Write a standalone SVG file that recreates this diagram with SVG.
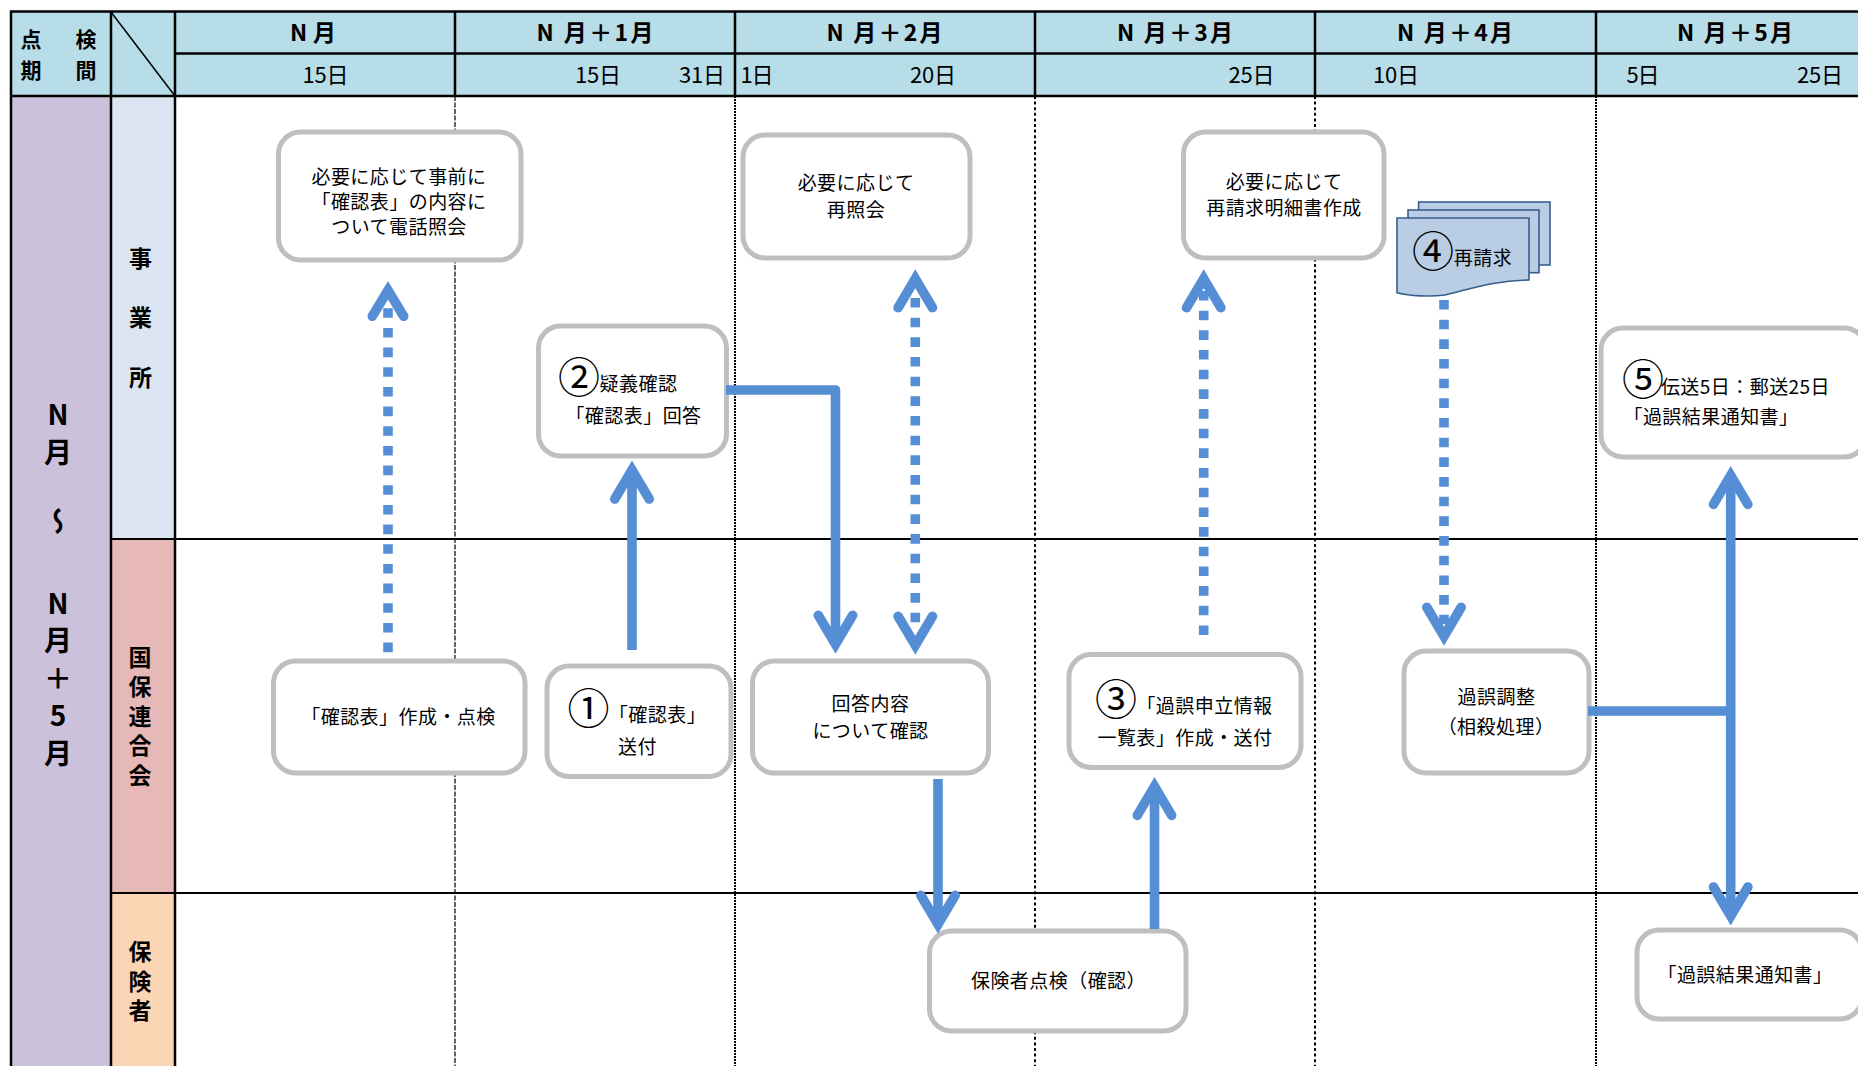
<svg xmlns="http://www.w3.org/2000/svg" width="1858" height="1066" viewBox="0 0 1858 1066">
<style>
text{font-family:"Noto Sans CJK JP","Noto Sans",sans-serif;fill:#000;text-anchor:middle}
.hd{font-size:23px;font-weight:700}
.dt{font-size:22px}
.lane{font-size:21px;font-weight:700}
.vl{font-size:23px;font-weight:700;writing-mode:vertical-rl;text-orientation:upright}
.per{font-size:28px;font-weight:700;writing-mode:vertical-rl;text-orientation:upright;letter-spacing:9.500px}
.b{font-size:19px;letter-spacing:.45px}
.n{font-size:42px}
.box{fill:#fff;stroke:#bfbfbf;stroke-width:5}
.grid{stroke:#000;stroke-width:2.5;fill:none}
.row{stroke:#000;stroke-width:2;fill:none}
.v1{stroke:#000;stroke-width:1.2;stroke-dasharray:5 1.5;fill:none}
.v2{stroke:#000;stroke-width:2;stroke-dasharray:2 1;fill:none}
.v3{stroke:#000;stroke-width:2;stroke-dasharray:3 2.6;fill:none}
.c{fill:none;stroke:#558ed5;stroke-width:9.6;stroke-linejoin:round}
.d{stroke-dasharray:9.6 10.07}
.doc{fill:#b9cde5;stroke:#385d8a;stroke-width:1.6}
</style>
<defs>
<marker id="ah" viewBox="-50 -30 70 60" refX="0" refY="0" markerWidth="70" markerHeight="60" markerUnits="userSpaceOnUse" orient="auto-start-reverse"><path d="M-29,-17.2L0,0L-29,17.2" fill="none" stroke="#558ed5" stroke-width="9.6" stroke-linecap="round" stroke-linejoin="miter" stroke-miterlimit="10"/></marker>
<marker id="ahs" viewBox="-50 -30 70 60" refX="0" refY="0" markerWidth="70" markerHeight="60" markerUnits="userSpaceOnUse" orient="auto-start-reverse"><path d="M-26,-15.7L0,0L-26,15.7" fill="none" stroke="#558ed5" stroke-width="9.6" stroke-linecap="round" stroke-linejoin="miter" stroke-miterlimit="10"/></marker>
<marker id="ahg" viewBox="-50 -30 70 60" refX="-13.3" refY="0" markerWidth="70" markerHeight="60" markerUnits="userSpaceOnUse" orient="auto-start-reverse"><path d="M-29,-17.2L0,0L-29,17.2" fill="none" stroke="#558ed5" stroke-width="9.6" stroke-linecap="round" stroke-linejoin="miter" stroke-miterlimit="10"/></marker>
</defs>

<g id="bands">
<rect x="11" y="11" width="1847" height="85" fill="#b7dde8"/>
<rect x="11" y="96" width="100" height="970" fill="#ccc1da"/>
<rect x="111" y="96" width="64" height="443" fill="#dbe5f1"/>
<rect x="111" y="539" width="64" height="354" fill="#e6b9b8"/>
<rect x="111" y="893" width="64" height="173" fill="#fcd5b5"/>
</g>

<g id="grid">
<path class="v1" d="M455 96V1066"/>
<path class="v2" d="M735 96V1066M1596 96V1066"/>
<path class="v3" d="M1035 96V1066M1315 96V1066"/>
<path class="row" d="M111 539H1858M111 893H1858"/>
<path class="grid" d="M10 11.500H1858M175 53.500H1858M10 96H1858M11 11V1066M111 11V1066M175 11V1066M455 11V96M735 11V96M1035 11V96M1315 11V96M1596 11V96"/>
<path d="M111 12L175 96" stroke="#000" stroke-width="1.5" fill="none"/>
</g>

<g id="header">
<text class="lane" x="31" y="46.500">点</text><text class="lane" x="86" y="46.500">検</text>
<text class="lane" x="31" y="77.500">期</text><text class="lane" x="86" y="77.500">間</text>
<text class="hd" x="313" y="41" textLength="46">N 月</text>
<text class="hd" x="595" y="41" textLength="117">N 月＋1月</text>
<text class="hd" x="884.500" y="41" textLength="116">N 月＋2月</text>
<text class="hd" x="1175" y="41" textLength="116">N 月＋3月</text>
<text class="hd" x="1455" y="41" textLength="116">N 月＋4月</text>
<text class="hd" x="1735" y="41" textLength="116">N 月＋5月</text>
<text class="dt" x="325.600" y="83" textLength="46">15日</text>
<text class="dt" x="598" y="83" textLength="46">15日</text>
<text class="dt" x="702" y="83" textLength="46">31日</text>
<text class="dt" x="757" y="83" textLength="33">1日</text>
<text class="dt" x="933" y="83" textLength="46">20日</text>
<text class="dt" x="1251.500" y="83" textLength="46">25日</text>
<text class="dt" x="1396" y="83" textLength="46">10日</text>
<text class="dt" x="1643" y="83" textLength="33">5日</text>
<text class="dt" x="1820" y="83" textLength="46">25日</text>
</g>

<g id="period">
<text class="per" x="58" y="438">N月</text>
<text class="per" x="58" y="526">～</text>
<text class="per" x="58" y="683">N月＋5月</text>
</g>

<g id="lane-jigyosho">
<text class="vl" x="140.500" y="336" style="letter-spacing:36.500px">事業所</text>
</g>
<g id="lane-kokuho">
<text class="vl" x="140" y="719.500" style="letter-spacing:6.500px">国保連合会</text>
</g>
<g id="lane-hokensha">
<text class="vl" x="140" y="984.500" style="letter-spacing:6.500px">保険者</text>
</g>

<g id="node-inquiry1">
<rect class="box" x="278.500" y="132" width="242.500" height="128" rx="22"/>
<text class="b" x="399" y="184">必要に応じて事前に</text>
<text class="b" x="399" y="208.500">「確認表」の内容に</text>
<text class="b" x="399" y="234">ついて電話照会</text>
</g>
<g id="node-inquiry2">
<rect class="box" x="743" y="135" width="227" height="123" rx="22"/>
<text class="b" x="856" y="190">必要に応じて</text>
<text class="b" x="856" y="217">再照会</text>
</g>
<g id="node-inquiry3">
<rect class="box" x="1183.500" y="132" width="200.500" height="126" rx="22"/>
<text class="b" x="1284" y="189">必要に応じて</text>
<text class="b" x="1284" y="215">再請求明細書作成</text>
</g>
<g id="node-4">
<rect class="doc" x="1418.600" y="202" width="131.400" height="63"/>
<rect class="doc" x="1408" y="210" width="131" height="62.700"/>
<path class="doc" d="M1397 218H1529V280C1495 280.500 1470 289 1445 295C1430 297 1410 296 1397 292.700Z"/>
<text class="n" x="1433" y="267">④</text>
<text class="b" x="1483" y="265">再請求</text>
</g>
<g id="node-2">
<rect class="box" x="538.500" y="326" width="188" height="130" rx="22"/>
<text class="n" x="579" y="393">②</text>
<text class="b" x="638.500" y="391">疑義確認</text>
<text class="b" x="633.500" y="423">「確認表」回答</text>
</g>
<g id="node-5">
<rect class="box" x="1601" y="328" width="265" height="129" rx="22"/>
<text class="n" x="1643" y="395">⑤</text>
<text class="b" x="1745.500" y="393.500">伝送5日：郵送25日</text>
<text class="b" x="1711" y="424">「過誤結果通知書」</text>
</g>
<g id="node-check">
<rect class="box" x="273.500" y="661" width="251.500" height="112" rx="22"/>
<text class="b" x="398.500" y="724">「確認表」作成・点検</text>
</g>
<g id="node-1">
<rect class="box" x="547" y="666" width="184" height="110.500" rx="22"/>
<text class="n" x="588.500" y="724">①</text>
<text class="b" x="657.500" y="722">「確認表」</text>
<text class="b" x="637.500" y="754">送付</text>
</g>
<g id="node-answer">
<rect class="box" x="752.500" y="661" width="236" height="112" rx="22"/>
<text class="b" x="870.500" y="711">回答内容</text>
<text class="b" x="870.500" y="737.500">について確認</text>
</g>
<g id="node-3">
<rect class="box" x="1069" y="654.500" width="232" height="113" rx="22"/>
<text class="n" x="1116" y="715">③</text>
<text class="b" x="1204.500" y="713">「過誤申立情報</text>
<text class="b" x="1185" y="744.500">一覧表」作成・送付</text>
</g>
<g id="node-adjust">
<rect class="box" x="1404" y="651" width="185" height="122" rx="22"/>
<text class="b" x="1496.500" y="704">過誤調整</text>
<text class="b" x="1496" y="734">（相殺処理）</text>
</g>
<g id="node-insurer">
<rect class="box" x="929.500" y="931" width="256.500" height="100" rx="22"/>
<text class="b" x="1058.500" y="988">保険者点検（確認）</text>
</g>
<g id="node-notice">
<rect class="box" x="1637" y="930" width="225" height="89" rx="22"/>
<text class="b" x="1745" y="982">「過誤結果通知書」</text>
</g>

<g id="connectors">
<path class="c d" d="M388 652.200V290.300" marker-end="url(#ahs)"/>
<path class="c" d="M632 650V470" marker-end="url(#ah)"/>
<path class="c" d="M726 390H835.500V644.300" marker-end="url(#ah)"/>
<path class="c d" d="M915.300 292V632" stroke-dashoffset="13.670" marker-start="url(#ahg)" marker-end="url(#ahg)"/>
<path class="c" d="M938 779V924.300" marker-end="url(#ah)"/>
<path class="c" d="M1154.500 929V786.400" marker-end="url(#ah)"/>
<path class="c d" d="M1203.700 635V278.700" marker-end="url(#ah)"/>
<path class="c d" d="M1444 300V636.300" marker-end="url(#ah)"/>
<path class="c" d="M1730.700 916V475.400" marker-start="url(#ah)" marker-end="url(#ah)"/>
<path class="c" d="M1588 711H1730.700"/>
</g>
</svg>
